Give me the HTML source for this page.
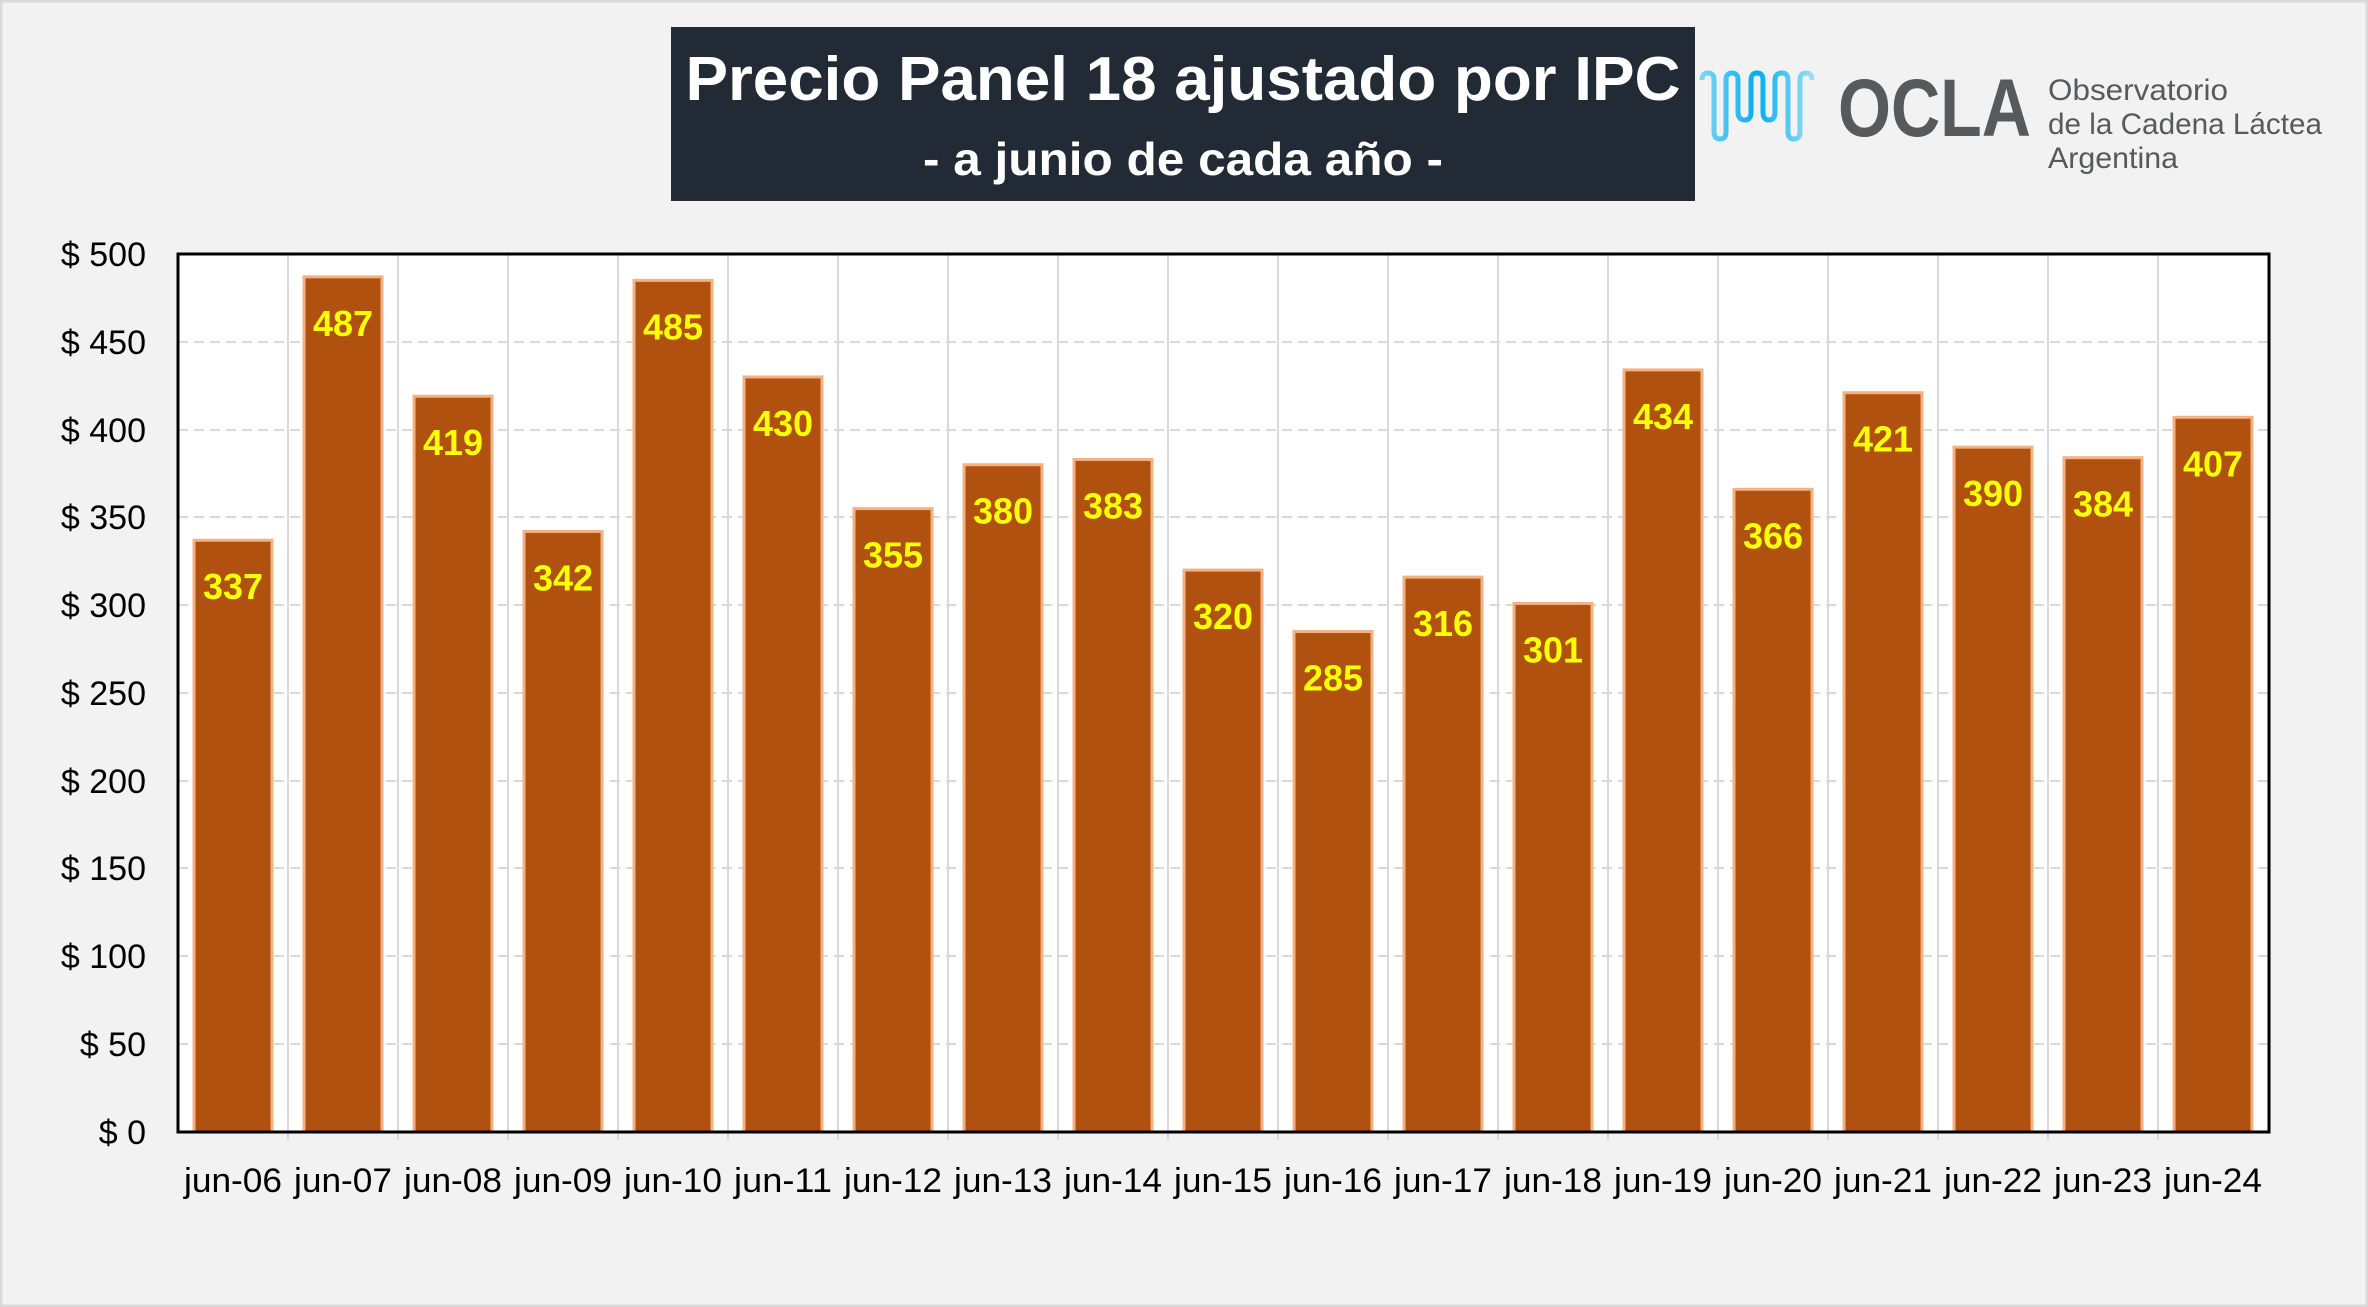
<!DOCTYPE html>
<html><head><meta charset="utf-8"><style>
html,body{margin:0;padding:0;background:#f2f2f2;}
svg{display:block;}
</style></head><body>
<svg width="2368" height="1307" viewBox="0 0 2368 1307" xmlns="http://www.w3.org/2000/svg" font-family="'Liberation Sans', sans-serif">
<rect x="0" y="0" width="2368" height="1307" fill="#f2f2f2"/>
<rect x="1" y="1" width="2366" height="1305" fill="none" stroke="#d9d9d9" stroke-width="3"/>
<rect x="671" y="27" width="1024" height="174" fill="#222a35"/>
<text x="1183" y="100" text-anchor="middle" fill="#fff" font-size="62" font-weight="bold" textLength="995" lengthAdjust="spacingAndGlyphs">Precio Panel 18 ajustado por IPC</text>
<text x="1183" y="175" text-anchor="middle" fill="#fff" font-size="46" font-weight="bold" textLength="520" lengthAdjust="spacingAndGlyphs">- a junio de cada año -</text>
<defs><linearGradient id="wg" x1="0" x2="1" y1="0" y2="0"><stop offset="0" stop-color="#7fd3f7"/><stop offset="0.5" stop-color="#00aeef"/><stop offset="1" stop-color="#9adcf7"/></linearGradient></defs>
<path d="M1702 80 Q1702 73 1708 73 Q1714 73 1714 80 L1714 132 Q1714 139 1720 139 Q1726 139 1726 132 L1726 80 Q1726 73 1732 73 Q1738 73 1738 80 L1738 112 Q1738 120 1745 120 Q1751 120 1751 112 L1751 80 Q1751 73 1757 73 Q1763 73 1763 80 L1763 112 Q1763 120 1769 120 Q1775 120 1775 112 L1775 80 Q1775 73 1782 73 Q1788 73 1788 80 L1788 132 Q1788 139 1794 139 Q1800 139 1800 132 L1800 80 Q1800 73 1806 73 Q1812 73 1812 80" fill="none" stroke="url(#wg)" stroke-width="5"/>
<text x="1838" y="136" fill="#58595b" font-size="82" font-weight="bold" textLength="193" lengthAdjust="spacingAndGlyphs">OCLA</text>
<text x="2048" y="100" fill="#58595b" font-size="30" textLength="180" lengthAdjust="spacingAndGlyphs">Observatorio</text>
<text x="2048" y="134" fill="#58595b" font-size="30" textLength="274" lengthAdjust="spacingAndGlyphs">de la Cadena Láctea</text>
<text x="2048" y="168" fill="#58595b" font-size="30" textLength="130" lengthAdjust="spacingAndGlyphs">Argentina</text>
<rect x="178" y="254" width="2091" height="878" fill="#fff"/>
<g stroke="#d9d9d9" stroke-width="2">
<line x1="288" y1="254" x2="288" y2="1140"/><line x1="398" y1="254" x2="398" y2="1140"/><line x1="508" y1="254" x2="508" y2="1140"/><line x1="618" y1="254" x2="618" y2="1140"/><line x1="728" y1="254" x2="728" y2="1140"/><line x1="838" y1="254" x2="838" y2="1140"/><line x1="948" y1="254" x2="948" y2="1140"/><line x1="1058" y1="254" x2="1058" y2="1140"/><line x1="1168" y1="254" x2="1168" y2="1140"/><line x1="1278" y1="254" x2="1278" y2="1140"/><line x1="1388" y1="254" x2="1388" y2="1140"/><line x1="1498" y1="254" x2="1498" y2="1140"/><line x1="1608" y1="254" x2="1608" y2="1140"/><line x1="1718" y1="254" x2="1718" y2="1140"/><line x1="1828" y1="254" x2="1828" y2="1140"/><line x1="1938" y1="254" x2="1938" y2="1140"/><line x1="2048" y1="254" x2="2048" y2="1140"/><line x1="2158" y1="254" x2="2158" y2="1140"/>
</g>
<g stroke="#d9d9d9" stroke-width="2" stroke-dasharray="10,6">
<line x1="178" y1="342" x2="2269" y2="342"/><line x1="178" y1="430" x2="2269" y2="430"/><line x1="178" y1="517" x2="2269" y2="517"/><line x1="178" y1="605" x2="2269" y2="605"/><line x1="178" y1="693" x2="2269" y2="693"/><line x1="178" y1="781" x2="2269" y2="781"/><line x1="178" y1="868" x2="2269" y2="868"/><line x1="178" y1="956" x2="2269" y2="956"/><line x1="178" y1="1044" x2="2269" y2="1044"/>
</g>
<g id="bars" fill="#b0510f" stroke="#f4b183" stroke-width="3"></g>
<line x1="178" y1="1132" x2="2269" y2="1132" stroke="#bfbfbf" stroke-width="3"/>
<rect x="178" y="254" width="2091" height="878" fill="none" stroke="#000" stroke-width="3"/>
<g id="labels"></g>
<g font-size="34" fill="#000" text-anchor="end">
<text x="146" y="266">$ 500</text><text x="146" y="354">$ 450</text><text x="146" y="442">$ 400</text><text x="146" y="529">$ 350</text><text x="146" y="617">$ 300</text><text x="146" y="705">$ 250</text><text x="146" y="793">$ 200</text><text x="146" y="880">$ 150</text><text x="146" y="968">$ 100</text><text x="146" y="1056">$ 50</text><text x="146" y="1144">$ 0</text>
</g>
<g id="xl" font-size="34" fill="#000" text-anchor="middle"></g>
<script>
var v=[337,487,419,342,485,430,355,380,383,320,285,316,301,434,366,421,390,384,407];
var ns="http://www.w3.org/2000/svg";
var b=document.getElementById('bars'),l=document.getElementById('labels'),x=document.getElementById('xl');
v.forEach(function(d,i){
 var cx=178+110*(i+0.5), top=1132-d*1.756;
 var r=document.createElementNS(ns,'rect');
 r.setAttribute('x',cx-39);r.setAttribute('y',top);r.setAttribute('width',78);r.setAttribute('height',1132-top);
 b.appendChild(r);
 var t=document.createElementNS(ns,'text');
 t.setAttribute('x',cx);t.setAttribute('y',top+59);t.setAttribute('text-anchor','middle');
 t.setAttribute('fill','#ffff00');t.setAttribute('font-size','36');t.setAttribute('font-weight','bold');
 t.textContent=d;l.appendChild(t);
 var y=document.createElementNS(ns,'text');
 y.setAttribute('x',cx);y.setAttribute('y',1192);y.setAttribute('textLength',98);y.setAttribute('lengthAdjust','spacingAndGlyphs');
 y.textContent='jun-'+String(6+i).padStart(2,'0');x.appendChild(y);
});
</script>
</svg>
</body></html>
